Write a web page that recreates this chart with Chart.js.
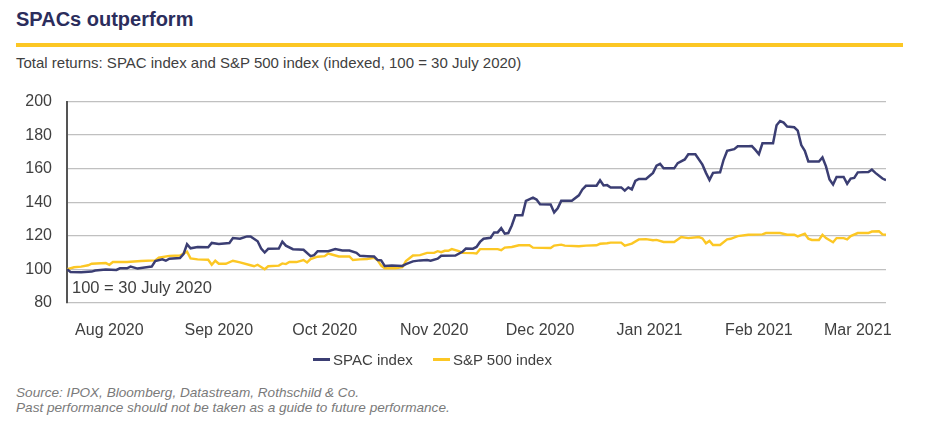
<!DOCTYPE html>
<html>
<head>
<meta charset="utf-8">
<script src="https://cdn.jsdelivr.net/npm/chart.js@4.4.1/dist/chart.umd.min.js"></script>
<style>
  body { margin: 0; background: #fff; font-family: "Liberation Sans", Arial, sans-serif; }
  #page { position: relative; width: 951px; height: 423px; overflow: hidden; }
  .title { position: absolute; left: 16px; top: 8px; font-size: 20px; font-weight: bold; color: #2b2d5c; }
  .rule { position: absolute; left: 16px; top: 43px; width: 887px; height: 4px; background: #fcc724; }
  .sub { position: absolute; left: 16px; top: 54px; font-size: 15px; color: #404040; }
  #wrap { position: absolute; left: 0; top: 77px; width: 951px; height: 288px; }
  .legend { position: absolute; top: 349px; left: 313px; font-size: 15px; color: #404040; }
  .legend span { display: inline-block; vertical-align: middle; }
  .sw { width: 17px; height: 3px; margin-right: 3px; }
  .src { position: absolute; left: 16px; top: 385px; font-size: 13.6px; font-style: italic; color: #7a7a7a; line-height: 15px; }
</style>
</head>
<body>
<div id="page">
  <div class="title">SPACs outperform</div>
  <div class="rule"></div>
  <div class="sub">Total returns: SPAC index and S&amp;P 500 index (indexed, 100 = 30 July 2020)</div>
  <div id="wrap"><canvas id="spac"></canvas></div>
  <div class="legend">
    <span class="sw" style="background:#3b3e73"></span><span>SPAC index</span>
    <span class="sw" style="background:#fcc724;margin-left:16px"></span><span>S&amp;P 500 index</span>
  </div>
  <div class="src">Source: IPOX, Bloomberg, Datastream, Rothschild &amp; Co.<br>Past performance should not be taken as a guide to future performance.</div>
</div>
<script>
// days counted from 30 July 2020
const spacDays = [0,1,4,7,8,11,14,15,17,18,20,23,24,25,27,28,29,32,33,34,35,37,40,41,43,46,47,49,51,52,
  54,55,56,57,60,61,62,64,67,69,70,71,74,76,78,80,82,83,85,87,88,89,90,92,95,96,98,100,102,103,
  105,106,110,112,113,115,116,117,118,120,121,122,123,124,125,126,127,129,130,132,133,134,137,138,139,140,143,145,146,147,
  150,151,152,153,154,157,158,159,160,161,162,164,166,167,168,169,172,173,175,176,178,180,181,182,183,185,186,187,189,190,
  193,194,195,196,197,200,201,202,203,204,206,207,208,209,210,213,214,215,216,217,218,220,221,222,223,224,227,228,229,231,232];
const spacIndex = [100,98.4,98.2,98.6,99.2,99.8,99.6,100.6,100.6,101.6,100.4,101.4,101.6,104.9,105.9,105.1,106.3,106.7,109,114.9,112.5,113.3,113.1,115.7,115.1,115.7,118.6,118.2,119.6,119.6,
  116.7,112.4,110,112.2,112.4,116.5,114.1,112,111.6,107.8,108.4,110.8,110.8,112,111.2,111.2,109.8,108,107.8,107.6,105.5,105.3,102,102.2,102,103.1,104.7,105.3,105.5,105.1,
  106.3,108,108.2,110.4,112.4,112.3,113.3,116.3,118.2,118.8,122,122,124.5,121.2,121.6,126.1,132.2,132.2,140.8,142.7,141.6,138.8,138.6,133.9,136.3,140.8,140.8,144.1,147.6,149.8,
  149.8,153.1,150,150.2,148.8,148.8,146.9,148.8,147.6,152.7,153.9,153.9,157.5,161.8,162.9,160.2,160.2,163.3,165.5,168.6,168.6,162.4,157.5,153.3,157.5,157.8,165.3,170.6,171.6,173.3,
  173.3,173.5,171.2,168.6,175.1,175.1,185.9,188.4,187.5,185.1,184.7,182.7,174.1,170.6,164.3,164.3,166.7,161.4,153.5,150.6,155.1,155.1,151,154.1,154.5,157.8,158,159.4,157.5,154.1,153.1];

const spxDays = [0,2,4,6,7,11,12,13,17,21,25,26,29,32,34,35,37,40,41,42,43,45,47,49,52,53,54,56,57,60,
  61,62,63,65,67,68,69,71,73,74,75,77,80,81,83,85,87,88,89,90,93,95,96,98,100,102,104,105,106,107,
  108,109,111,112,115,116,117,122,123,124,126,128,131,132,137,138,140,141,145,147,150,151,153,154,157,158,160,162,164,166,
  167,169,172,174,176,179,180,181,182,183,185,187,188,190,193,197,198,202,204,206,207,209,210,211,213,214,215,217,218,220,
  221,222,224,227,228,230,231,232];
const spxIndex = [100,101.2,101.6,102.4,103.3,103.7,102.7,104.3,104.3,104.9,105.3,106.9,108,108.2,110.5,106.5,105.9,105.7,102.7,105.1,103.3,103.3,105.1,104.1,102.4,101.8,102.7,100,101.8,102.2,
  103.5,103.1,104.3,104.3,105.5,104.1,106.1,107.5,107.8,109.4,108.8,107.6,107.6,105.5,105.9,106.1,106.9,105.3,102.2,100.6,100.6,101.2,104.9,108.2,108.4,109.8,109.8,110.8,110.2,111,
  111,112,110.8,109.8,109.6,109.4,112,112,111.4,112.9,113.3,114.3,114.3,112.9,112.7,114.1,114.7,114.1,113.7,114.1,114.3,115.2,115.5,115.9,115.9,114.1,115.3,117.8,118,117.3,
  117.5,116.3,116.3,119.2,118.6,119.2,118.4,115.5,116.9,114.5,114.5,117.8,118.2,119.8,120.6,120.8,121.6,121.6,120.6,120.6,119.6,121.2,118.2,117.5,117.5,120.6,118.6,116.1,118.6,118.6,
  117.8,119.8,121.6,121.6,122.5,122.7,120.8,120.6];

const tickDays = [12, 43, 73, 104, 134, 165, 196, 224];
const tickLabels = ["Aug 2020", "Sep 2020", "Oct 2020", "Nov 2020", "Dec 2020", "Jan 2021", "Feb 2021", "Mar 2021"];

const toPoints = (xs, ys) => xs.map((d, i) => ({ x: d, y: ys[i] }));

const textColor = "#404040";
const fontFamily = '"Liberation Sans", Arial, sans-serif';

// "100 = 30 July 2020" note inside the plot
const baseNote = {
  id: "baseNote",
  afterDatasetsDraw(chart) {
    const { ctx, chartArea, scales } = chart;
    ctx.save();
    ctx.font = "16.5px " + fontFamily;
    ctx.fillStyle = textColor;
    ctx.textBaseline = "middle";
    ctx.fillText("100 = 30 July 2020", chartArea.left + 5, scales.y.getPixelForValue(88.4));
    ctx.restore();
  }
};

new Chart(document.getElementById("spac"), {
  type: "line",
  data: {
    datasets: [
      { label: "SPAC index", data: toPoints(spacDays, spacIndex), borderColor: "#3b3e73", borderWidth: 2.5 },
      { label: "S&P 500 index", data: toPoints(spxDays, spxIndex), borderColor: "#fcc724", borderWidth: 2.4 }
    ]
  },
  options: {
    responsive: true,
    maintainAspectRatio: false,
    animation: false,
    elements: { point: { radius: 0 }, line: { tension: 0 } },
    layout: { padding: { top: 7, right: 65, bottom: 7, left: 0 } },
    plugins: { legend: { display: false }, tooltip: { enabled: false } },
    scales: {
      x: {
        type: "linear",
        min: 0,
        max: 232,
        grid: { display: false, drawTicks: false },
        border: { display: false },
        afterBuildTicks: axis => { axis.ticks = tickDays.map(v => ({ value: v })); },
        ticks: {
          autoSkip: false,
          maxRotation: 0,
          padding: 18,
          color: textColor,
          font: { family: fontFamily, size: 16 },
          callback: v => tickLabels[tickDays.indexOf(v)]
        }
      },
      y: {
        min: 80,
        max: 200,
        afterFit: axis => { axis.width = 67; },
        grid: { color: "#c0c0c0", lineWidth: 1.3, drawTicks: false },
        border: { color: "#555", width: 2 },
        ticks: { stepSize: 20, padding: 15, color: textColor, font: { family: fontFamily, size: 16 } }
      }
    }
  },
  plugins: [baseNote]
});
</script>
</body>
</html>
